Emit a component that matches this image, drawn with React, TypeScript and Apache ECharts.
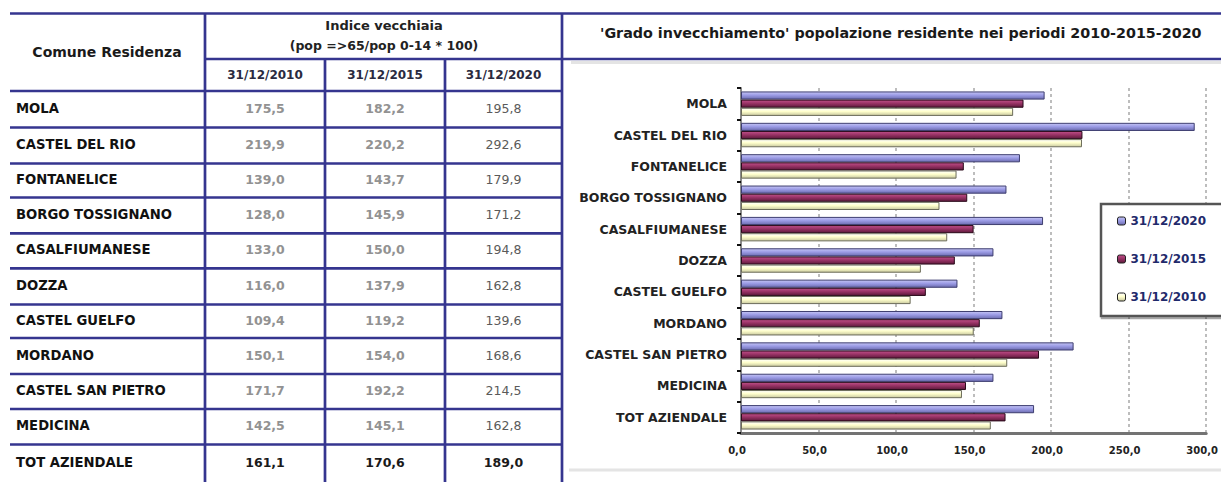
import React, { useEffect, useRef } from 'react';
import * as echarts from 'echarts';

const categories = [
  'MOLA', 'CASTEL DEL RIO', 'FONTANELICE', 'BORGO TOSSIGNANO', 'CASALFIUMANESE',
  'DOZZA', 'CASTEL GUELFO', 'MORDANO', 'CASTEL SAN PIETRO', 'MEDICINA', 'TOT AZIENDALE',
];
const years = ['31/12/2010', '31/12/2015', '31/12/2020'];
const v2010 = [175.5, 219.9, 139.0, 128.0, 133.0, 116.0, 109.4, 150.1, 171.7, 142.5, 161.1];
const v2015 = [182.2, 220.2, 143.7, 145.9, 150.0, 137.9, 119.2, 154.0, 192.2, 145.1, 170.6];
const v2020 = [195.8, 292.6, 179.9, 171.2, 194.8, 162.8, 139.6, 168.6, 214.5, 162.8, 189.0];
const tableTitle = 'Comune Residenza';
const indexTitle = 'Indice vecchiaia';
const indexFormula = '(pop =>65/pop 0-14 * 100)';
const chartTitle = "'Grado invecchiamento' popolazione residente nei periodi 2010-2015-2020";

const W = 1221;
const H = 482;
const NAVY = '#35358f';
const FONT = '"DejaVu Sans", sans-serif';
const rowLines = [91, 127.5, 163.5, 197.5, 233.3, 268.3, 304.5, 338, 374, 409, 444.5, 484];
const colX = [10, 205, 325, 445, 562];

const fmt = (v: number) => v.toFixed(1).replace('.', ',');

function line(x1: number, y1: number, x2: number, y2: number, stroke = NAVY, w = 2.7) {
  return { type: 'line', silent: true, shape: { x1, y1, x2, y2 }, style: { stroke, lineWidth: w } };
}
function text(x: number, y: number, t: string, font: string, fill: string, align = 'center') {
  return {
    type: 'text', silent: true, x, y,
    style: { text: t, font, fill, align, verticalAlign: 'middle', textAlign: align, textVerticalAlign: 'middle' },
  };
}

export default function App() {
  const ref = useRef<HTMLDivElement>(null);
  useEffect(() => {
    if (!ref.current) return;
    const chart = echarts.init(ref.current, undefined, { renderer: 'svg' });
    const g: any[] = [];
    // table lines
    g.push(line(10, 13.5, W, 13.5));
    g.push(line(colX[1], 59, W, 59));
    rowLines.slice(0, -1).forEach((y) => g.push(line(10, y, colX[4], y)));
    g.push(line(colX[1], 13.5, colX[1], H));
    g.push(line(colX[2], 59, colX[2], H));
    g.push(line(colX[3], 59, colX[3], H));
    g.push(line(colX[4], 13.5, colX[4], H));
    // chart frame (light)
    g.push(line(571, 62.5, W, 62.5, '#e4e4e4', 3));
    g.push(line(569, 470, W, 470, '#e4e4e4', 3));
    // legend frame (extends past the right edge)
    g.push({
      type: 'rect', silent: true, z: 3,
      shape: { x: 1101, y: 204, width: 140, height: 112 },
      style: { fill: '#fff', stroke: '#555', lineWidth: 2.5, shadowColor: 'rgba(0,0,0,0.35)', shadowOffsetY: 2, shadowOffsetX: 1 },
    });
    // header texts
    g.push(text(107, 52, tableTitle, `bold 14px ${FONT}`, '#1a1a1a'));
    g.push(text(384, 25, indexTitle, `bold 13px ${FONT}`, '#222'));
    g.push(text(384, 45, indexFormula, `bold 12.5px ${FONT}`, '#222'));
    years.forEach((y, i) => {
      g.push(text((colX[i + 1] + colX[i + 2]) / 2, 75, y, `bold 12px ${FONT}`, '#2a2a40'));
    });
    g.push(text(600, 33, chartTitle, `bold 14.3px ${FONT}`, '#1a1a1a', 'left'));
    // rows
    const cols = [v2010, v2015, v2020];
    categories.forEach((c, r) => {
      const isTot = r === categories.length - 1;
      const yc = (rowLines[r] + rowLines[r + 1]) / 2 - (isTot ? 2 : 1);
      g.push(text(16, yc, c, `bold 13.2px ${FONT}`, '#111', 'left'));
      cols.forEach((arr, i) => {
        const cx = (colX[i + 1] + colX[i + 2]) / 2;
        const color = isTot ? '#1a1a1a' : i < 2 ? '#929292' : '#5a5a5a';
        const weight = isTot ? 'bold' : i < 2 ? 'bold' : 'normal';
        g.push(text(cx, yc, fmt(arr[r]), `${weight} 12.5px ${FONT}`, color));
      });
    });

    const grad = (a: string, b: string, c: string) =>
      new echarts.graphic.LinearGradient(0, 0, 0, 1, [
        { offset: 0, color: a },
        { offset: 0.45, color: b },
        { offset: 1, color: c },
      ]);

    const mk = (name: string, data: number[], color: any, border: string) => ({
      name, type: 'bar', data, barGap: '0%', barCategoryGap: '22%',
      itemStyle: { color, borderColor: border, borderWidth: 1 },
    });

    chart.setOption({
      animation: false,
      backgroundColor: '#fff',
      grid: { left: 741, right: 12, top: 88, bottom: 49, containLabel: false },
      legend: {
        data: ['31/12/2020', '31/12/2015', '31/12/2010'],
        orient: 'vertical', left: 1100, top: 203,
        itemWidth: 8, itemHeight: 8, itemGap: 26,
        padding: [12, 10, 12, 17],
        borderWidth: 0,
        itemStyle: { borderColor: '#222', borderWidth: 1 },
        textStyle: { fontFamily: FONT, fontWeight: 'bold', fontSize: 12, color: '#1f2a6b' },
      },
      xAxis: {
        type: 'value', min: 0, max: 300, interval: 50,
        axisLine: { show: true, lineStyle: { color: '#737373', width: 3 } },
        axisTick: { show: false },
        splitLine: { show: true, lineStyle: { type: [3, 3], color: '#bdbdbd', width: 2 } },
        axisLabel: {
          formatter: (v: number) => fmt(v), fontFamily: FONT, fontSize: 10, fontWeight: 'bold',
          color: '#222', margin: 12, padding: [0, 8, 0, 0],
        },
      },
      yAxis: {
        type: 'category', data: categories, inverse: true,
        axisLine: { show: true, lineStyle: { color: '#8a8a8a', width: 2 } },
        axisTick: { show: true, length: 4, lineStyle: { color: '#111', width: 2 } },
        axisLabel: { fontFamily: FONT, fontSize: 12.5, fontWeight: 'bold', color: '#222', margin: 14 },
      },
      series: [
        mk('31/12/2020', v2020, grad('#c4c4f4', '#9c9ce6', '#6d6db0'), '#3e3e70'),
        mk('31/12/2015', v2015, grad('#c0508a', '#993366', '#5e1a3c'), '#2a0a1a'),
        mk('31/12/2010', v2010, grad('#ffffff', '#ffffcc', '#c9c9a0'), '#6c6c5a'),
      ],
      graphic: { elements: g },
    });
    return () => chart.dispose();
  }, []);
  return (
    <div
      ref={ref}
      style={{ position: 'absolute', left: 0, top: 0, width: W, height: H, background: '#fff' }}
    />
  );
}
